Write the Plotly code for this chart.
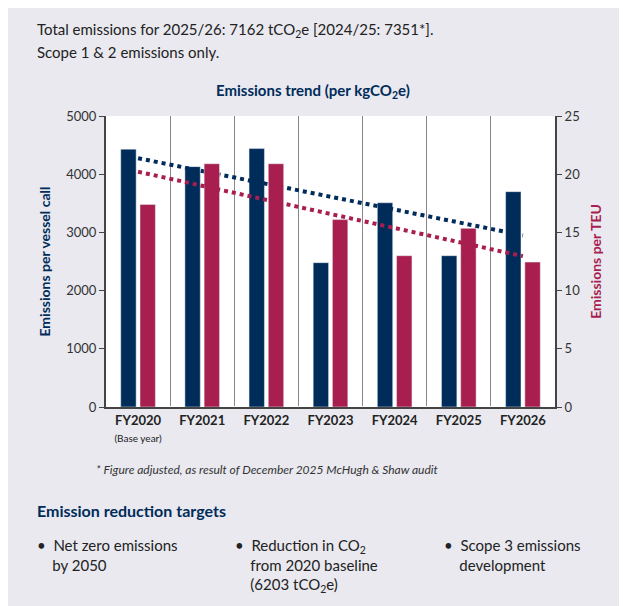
import numpy as np
import plotly.graph_objects as go

years = ['FY2020', 'FY2021', 'FY2022', 'FY2023', 'FY2024', 'FY2025', 'FY2026']
per_vessel = [4430, 4130, 4440, 2480, 3510, 2600, 3700]
per_teu = [17.4, 20.9, 20.9, 16.1, 13.0, 15.35, 12.45]

NAVY = '#002c5a'
RED = '#a81f4f'
BG = '#e9e9ef'
FONT = 'Lato'
W, H = 627, 606
ML, MR, MT, MB = 98, 80, 108, 207

x = np.arange(len(years))
# linear trend lines, as in the original spreadsheet chart
trend_v = np.polyval(np.polyfit(x, per_vessel, 1), x)
trend_t = np.polyval(np.polyfit(x, per_teu, 1), x)

fig = go.Figure()
fig.add_trace(go.Bar(x=x, y=per_vessel, marker_color=NAVY, offsetgroup='a', yaxis='y'))
fig.add_trace(go.Bar(x=x, y=per_teu, marker_color=RED, offsetgroup='b', yaxis='y2'))
fig.add_trace(go.Scatter(x=x, y=trend_v, mode='lines', line=dict(color=NAVY, width=4, dash='dot'), yaxis='y'))
fig.add_trace(go.Scatter(x=x, y=trend_t, mode='lines', line=dict(color=RED, width=4, dash='dot'), yaxis='y2'))

ticktext = ['<b>%s</b>' % t if i else "<b>FY2020</b><br><span style='font-size:10px'>(Base year)</span>"
            for i, t in enumerate(years)]

fig.update_layout(
    width=W, height=H,
    margin=dict(l=ML, r=MR, t=MT, b=MB),
    paper_bgcolor=BG, plot_bgcolor='white',
    showlegend=False,
    barmode='group', bargap=0.4, bargroupgap=0.2,
    font=dict(family=FONT, color='#333333', size=13),
    xaxis=dict(
        range=[-0.5, 6.5], tickvals=list(x), ticktext=ticktext, showgrid=False,
        tickfont=dict(size=13, color='#222222'), ticks='', showline=True, linecolor='#444', linewidth=2,
        minor=dict(tickvals=[0.5, 1.5, 2.5, 3.5, 4.5, 5.5], showgrid=True, gridcolor='#888', gridwidth=1),
    ),
    yaxis=dict(
        range=[0, 5000], dtick=1000, showgrid=False, showline=True, linecolor='#444', linewidth=2,
        ticks='outside', ticklen=5, tickcolor='#444', tickfont=dict(size=13),
        title=dict(text='<b>Emissions per vessel call</b>', font=dict(color=NAVY, size=14), standoff=12),
    ),
    yaxis2=dict(
        range=[0, 25], dtick=5, overlaying='y', side='right', showgrid=False, showline=True,
        linecolor='#444', linewidth=2, ticks='outside', ticklen=5, tickcolor='#444', tickfont=dict(size=13),
        title=dict(text='<b>Emissions per TEU</b>', font=dict(color=RED, size=14), standoff=12),
    ),
)

# (x px, y px, anchor, text, size, colour)
anns = [
    (27, 22, 'middle', 'Total emissions for 2025/26: 7162 tCO<sub>2</sub>e [2024/25: 7351*].', 15, '#222'),
    (27, 44, 'middle', 'Scope 1 & 2 emissions only.', 15, '#222'),
    (206, 83, 'middle', '<b>Emissions trend (per kgCO<sub>2</sub>e)</b>', 15, NAVY),
    (86, 461, 'middle', '<i>* Figure adjusted, as result of December 2025 McHugh & Shaw audit</i>', 12, '#333'),
    (27, 502, 'middle', '<b>Emission reduction targets</b>', 16, NAVY),
    (27, 526, 'top', '•  Net zero emissions<br>    by 2050', 15, '#222'),
    (225, 526, 'top', '•  Reduction in CO<sub>2</sub><br>    from 2020 baseline<br>    (6203 tCO<sub>2</sub>e)', 15, '#222'),
    (434, 526, 'top', '•  Scope 3 emissions<br>    development', 15, '#222'),
]
for px_x, px_y, anchor, text, size, color in anns:
    fig.add_annotation(
        x=(px_x - ML) / (W - ML - MR), y=1 - (px_y - MT) / (H - MT - MB),
        xref='paper', yref='paper', xanchor='left', yanchor=anchor, align='left',
        showarrow=False, text=text, font=dict(family=FONT, size=size, color=color),
    )

fig.write_html('out.html')
